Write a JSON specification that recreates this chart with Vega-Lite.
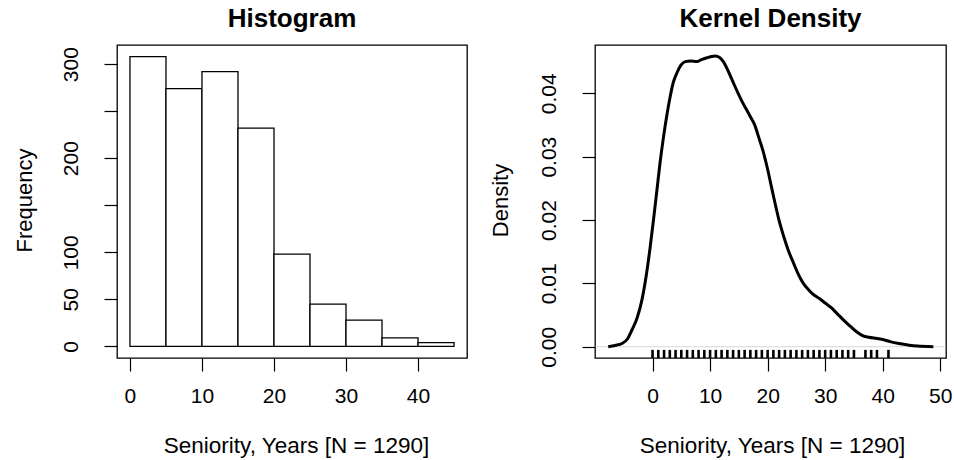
{
  "$schema": "https://vega.github.io/schema/vega-lite/v6.json",
  "autosize": {"type": "none"},
  "padding": {"left": 117, "top": 45, "right": 837, "bottom": 415},
  "background": "white",
  "config": {
    "font": "Liberation Sans",
    "view": {"stroke": "#000", "strokeWidth": 1.3},
    "axis": {
      "grid": false,
      "domain": false,
      "tickColor": "#000",
      "tickSize": 13,
      "tickWidth": 1.2,
      "labelColor": "#000",
      "titleColor": "#000",
      "labelFont": "Liberation Sans",
      "titleFont": "Liberation Sans",
      "titleFontWeight": "normal"
    }
  },
  "bounds": "flush",
  "spacing": 128,
  "hconcat": [
    {
      "width": 350,
      "height": 313,
      "title": {"text": "Histogram", "fontSize": 26, "fontWeight": "bold", "baseline": "alphabetic", "offset": -8.3, "frame": "group", "anchor": "middle", "color": "#000"},
      "data": {
        "values": [
          {"bin_start": 0, "bin_end": 5, "count": 308},
          {"bin_start": 5, "bin_end": 10, "count": 274},
          {"bin_start": 10, "bin_end": 15, "count": 292},
          {"bin_start": 15, "bin_end": 20, "count": 232},
          {"bin_start": 20, "bin_end": 25, "count": 98},
          {"bin_start": 25, "bin_end": 30, "count": 45},
          {"bin_start": 30, "bin_end": 35, "count": 28},
          {"bin_start": 35, "bin_end": 40, "count": 9},
          {"bin_start": 40, "bin_end": 45, "count": 4}
        ]
      },
      "mark": {"type": "bar", "fill": "white", "stroke": "black", "strokeWidth": 1.3},
      "encoding": {
        "x": {
          "field": "bin_start", "type": "quantitative",
          "scale": {"domain": [-1.8, 46.8], "nice": false, "zero": false},
          "axis": {"values": [0, 10, 20, 30, 40], "title": "Seniority, Years [N = 1290]", "labelFontSize": 21, "labelPadding": 14, "titleFontSize": 22.5, "titleX": 179, "titleY": 94, "titleBaseline": "alphabetic", "titleAlign": "center"}
        },
        "x2": {"field": "bin_end"},
        "y": {
          "field": "count", "type": "quantitative", "stack": null,
          "scale": {"domain": [-12.32, 320.32], "nice": false, "zero": false},
          "axis": {"values": [0, 50, 100, 150, 200, 250, 300], "labelExpr": "datum.value == 150 || datum.value == 250 ? '' : datum.label", "title": "Frequency", "labelAngle": -90, "labelAlign": "center", "labelBaseline": "bottom", "labelFontSize": 21, "labelPadding": 23, "titleFontSize": 22, "titleAngle": -90, "titleX": -86, "titleY": 155, "titleBaseline": "alphabetic", "titleAlign": "center"}
        },
        "y2": {"datum": 0}
      }
    },
    {
      "width": 351,
      "height": 313,
      "title": {"text": "Kernel Density", "fontSize": 26, "fontWeight": "bold", "baseline": "alphabetic", "offset": -8.3, "frame": "group", "anchor": "middle", "color": "#000"},
      "layer": [
        {
          "data": {"values": [{"level": 0}]},
          "mark": {"type": "rule", "stroke": "#bbbbbb", "strokeWidth": 0.6},
          "encoding": {"y": {"field": "level", "type": "quantitative", "title": "Density"}}
        },
        {
          "data": {
            "values": [
              {"x": -7.7, "density": 0.0},
              {"x": -6.5, "density": 0.0002},
              {"x": -5.3, "density": 0.0005},
              {"x": -4.3, "density": 0.0013},
              {"x": -3.6, "density": 0.0026},
              {"x": -2.7, "density": 0.0045},
              {"x": -1.84, "density": 0.0074},
              {"x": -1.1, "density": 0.0112},
              {"x": -0.4, "density": 0.0158},
              {"x": 0.2, "density": 0.0203},
              {"x": 0.76, "density": 0.0247},
              {"x": 1.3, "density": 0.029},
              {"x": 1.92, "density": 0.0332},
              {"x": 2.5, "density": 0.0366},
              {"x": 3.07, "density": 0.0395},
              {"x": 3.6, "density": 0.0417},
              {"x": 4.23, "density": 0.0432},
              {"x": 4.9, "density": 0.0444},
              {"x": 5.68, "density": 0.045},
              {"x": 6.6, "density": 0.0451},
              {"x": 7.7, "density": 0.045},
              {"x": 8.5, "density": 0.0453},
              {"x": 9.45, "density": 0.0456},
              {"x": 10.2, "density": 0.0458},
              {"x": 10.9, "density": 0.0459},
              {"x": 11.6, "density": 0.0457},
              {"x": 12.3, "density": 0.045},
              {"x": 13.2, "density": 0.0434},
              {"x": 14.07, "density": 0.0416},
              {"x": 15.5, "density": 0.0388},
              {"x": 17.0, "density": 0.0363},
              {"x": 17.8, "density": 0.0349},
              {"x": 18.4, "density": 0.0332},
              {"x": 19.2, "density": 0.0309},
              {"x": 19.9, "density": 0.0284},
              {"x": 20.6, "density": 0.0255},
              {"x": 21.3, "density": 0.0226},
              {"x": 22.0, "density": 0.0199},
              {"x": 22.8, "density": 0.0174},
              {"x": 23.6, "density": 0.0152},
              {"x": 24.5, "density": 0.0132},
              {"x": 25.3, "density": 0.0115},
              {"x": 26.2, "density": 0.01},
              {"x": 27.1, "density": 0.009},
              {"x": 28.0, "density": 0.0082},
              {"x": 29.0, "density": 0.0076},
              {"x": 30.0, "density": 0.0069},
              {"x": 31.0, "density": 0.0062},
              {"x": 32.0, "density": 0.0053},
              {"x": 33.2, "density": 0.0042},
              {"x": 34.4, "density": 0.0032},
              {"x": 35.4, "density": 0.0024},
              {"x": 36.4, "density": 0.0018},
              {"x": 37.6, "density": 0.0015},
              {"x": 39.0, "density": 0.0013},
              {"x": 40.2, "density": 0.0011},
              {"x": 41.3, "density": 0.0008},
              {"x": 42.8, "density": 0.0005},
              {"x": 44.2, "density": 0.0003},
              {"x": 46.0, "density": 0.0001},
              {"x": 48.8, "density": 0.0}
            ]
          },
          "mark": {"type": "line", "stroke": "black", "strokeWidth": 3, "interpolate": "monotone"},
          "encoding": {
            "x": {
              "field": "x", "type": "quantitative",
              "scale": {"domain": [-10, 51], "nice": false, "zero": false},
              "axis": {"values": [0, 10, 20, 30, 40, 50], "title": "Seniority, Years [N = 1290]", "labelFontSize": 21, "labelPadding": 14, "titleFontSize": 22.5, "titleX": 177, "titleY": 94, "titleBaseline": "alphabetic", "titleAlign": "center"}
            },
            "y": {
              "field": "density", "type": "quantitative",
              "scale": {"domain": [-0.00178, 0.04762], "nice": false, "zero": false},
              "axis": {"values": [0, 0.01, 0.02, 0.03, 0.04], "format": ".2f", "title": "Density", "labelAngle": -90, "labelAlign": "center", "labelBaseline": "bottom", "labelFontSize": 21, "labelPadding": 23, "titleFontSize": 22, "titleAngle": -90, "titleX": -88, "titleY": 155, "titleBaseline": "alphabetic", "titleAlign": "center"}
            }
          }
        },
        {
          "data": {
            "values": [
              {"seniority": 0}, {"seniority": 1}, {"seniority": 2}, {"seniority": 3}, {"seniority": 4},
              {"seniority": 5}, {"seniority": 6}, {"seniority": 7}, {"seniority": 8}, {"seniority": 9},
              {"seniority": 10}, {"seniority": 11}, {"seniority": 12}, {"seniority": 13}, {"seniority": 14},
              {"seniority": 15}, {"seniority": 16}, {"seniority": 17}, {"seniority": 18}, {"seniority": 19},
              {"seniority": 20}, {"seniority": 21}, {"seniority": 22}, {"seniority": 23}, {"seniority": 24},
              {"seniority": 25}, {"seniority": 26}, {"seniority": 27}, {"seniority": 28}, {"seniority": 29},
              {"seniority": 30}, {"seniority": 31}, {"seniority": 32}, {"seniority": 33}, {"seniority": 34},
              {"seniority": 35}, {"seniority": 37}, {"seniority": 38}, {"seniority": 39}, {"seniority": 41}
            ]
          },
          "mark": {"type": "rule", "stroke": "black", "strokeWidth": 2.6},
          "encoding": {
            "x": {"field": "seniority", "type": "quantitative"},
            "y": {"datum": -0.00178},
            "y2": {"datum": -0.0005}
          }
        }
      ]
    }
  ]
}
